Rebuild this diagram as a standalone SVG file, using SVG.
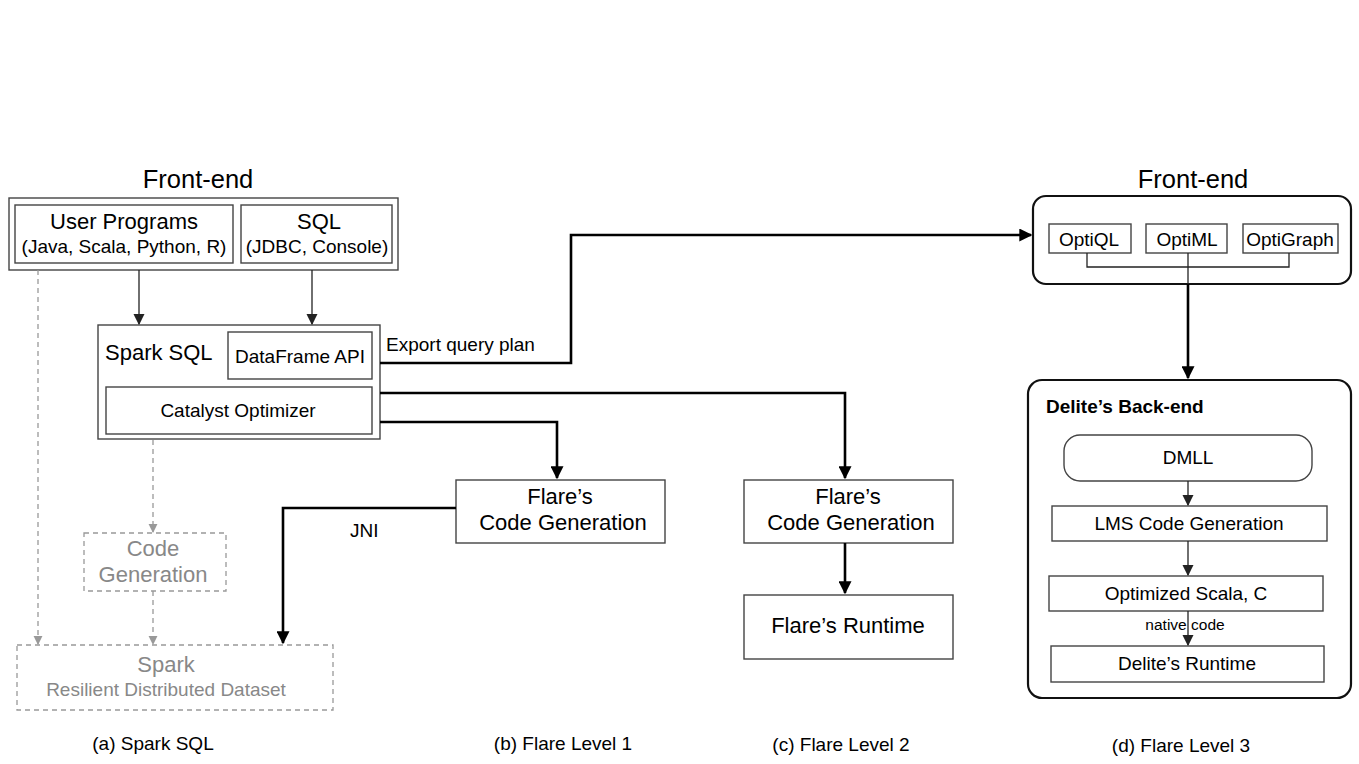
<svg xmlns="http://www.w3.org/2000/svg" width="1359" height="764" viewBox="0 0 1359 764">
<style>
text{font-family:"Liberation Sans",Arial,sans-serif;fill:#000}
.box{fill:#fff;stroke:#444;stroke-width:1.4}
.rbox{fill:#fff;stroke:#111;stroke-width:2.2}
.dbox{fill:none;stroke:#999;stroke-width:1.3;stroke-dasharray:5,4}
.thin{fill:none;stroke:#222;stroke-width:1.3}
.thick{fill:none;stroke:#000;stroke-width:2.6}
.dash{fill:none;stroke:#999;stroke-width:1.3;stroke-dasharray:5,4}
.t24{font-size:25.5px}
.t20{font-size:22px}
.t16{font-size:19px}
.t13{font-size:15.5px}
.c{text-anchor:middle}
.g{fill:#888}
</style>
<defs>
<marker id="aBig" viewBox="0 0 10 10" refX="9" refY="5" markerWidth="5" markerHeight="5" markerUnits="strokeWidth" orient="auto">
<path d="M0,0 L10,5 L0,10 z" fill="#000"/>
</marker>
<marker id="aSmall" viewBox="0 0 10 10" refX="9" refY="5" markerWidth="8.5" markerHeight="8.5" markerUnits="strokeWidth" orient="auto">
<path d="M0,0 L10,5 L0,10 z" fill="#222"/>
</marker>
<marker id="aGray" viewBox="0 0 10 10" refX="9" refY="5" markerWidth="7" markerHeight="7" markerUnits="strokeWidth" orient="auto">
<path d="M0,0 L10,5 L0,10 z" fill="#999"/>
</marker>
</defs>

<!-- Titles -->
<text class="t24 c" x="198" y="188">Front-end</text>
<text class="t24 c" x="1193" y="188">Front-end</text>

<!-- Spark SQL side -->
<g id="frontend-left">
<rect class="box" x="9" y="198" width="389" height="72"/>
</g>
<g id="user-programs">
<rect class="box" x="15" y="205" width="218" height="58"/>
<text class="t20 c" x="124" y="229">User Programs</text>
<text class="t16 c" x="124" y="253">(Java, Scala, Python, R)</text>
</g>
<g id="sql">
<rect class="box" x="241" y="205" width="151" height="58"/>
<text class="t20 c" x="319" y="229">SQL</text>
<text class="t16 c" x="317" y="253">(JDBC, Console)</text>
</g>
<g id="spark-sql">
<rect class="box" x="98" y="325" width="282" height="114"/>
<text class="t20" x="105" y="360">Spark SQL</text>
</g>
<g id="dataframe-api">
<rect class="box" x="228" y="332" width="144" height="47"/>
<text class="t16 c" x="300" y="363">DataFrame API</text>
</g>
<g id="catalyst">
<rect class="box" x="106" y="387" width="266" height="47"/>
<text class="t16 c" x="238" y="417">Catalyst Optimizer</text>
</g>
<g id="code-generation">
<rect class="dbox" x="84" y="533" width="142" height="58"/>
<text class="t20 c g" x="153" y="556">Code</text>
<text class="t20 c g" x="153" y="582">Generation</text>
</g>
<g id="spark-rdd">
<rect class="dbox" x="17" y="645" width="316" height="65"/>
<text class="t20 c g" x="166" y="672">Spark</text>
<text class="t16 c g" x="166" y="696">Resilient Distributed Dataset</text>
</g>

<!-- Flare levels -->
<g id="flare-codegen-1">
<rect class="box" x="456" y="480" width="209" height="63"/>
<text class="t20 c" x="560" y="504">Flare’s</text>
<text class="t20 c" x="563" y="530">Code Generation</text>
</g>
<g id="flare-codegen-2">
<rect class="box" x="744" y="480" width="209" height="63"/>
<text class="t20 c" x="848" y="504">Flare’s</text>
<text class="t20 c" x="851" y="530">Code Generation</text>
</g>
<g id="flare-runtime">
<rect class="box" x="744" y="595" width="209" height="64"/>
<text class="t20 c" x="848" y="633">Flare’s Runtime</text>
</g>

<!-- Delite side -->
<g id="frontend-right">
<rect class="rbox" x="1033" y="196" width="318" height="88" rx="13"/>
</g>
<g id="optiql">
<rect class="box" x="1049" y="224" width="82" height="29"/>
<text class="t16 c" x="1089" y="246">OptiQL</text>
</g>
<g id="optiml">
<rect class="box" x="1146" y="224" width="81" height="29"/>
<text class="t16 c" x="1187" y="246">OptiML</text>
</g>
<g id="optigraph">
<rect class="box" x="1243" y="224" width="95" height="29"/>
<text class="t16 c" x="1290" y="246">OptiGraph</text>
</g>
<g id="delite-backend">
<rect class="rbox" x="1028" y="380" width="323" height="318" rx="14"/>
<text class="t16" x="1046" y="413" font-weight="bold">Delite’s Back-end</text>
</g>
<g id="dmll">
<rect class="box" x="1064" y="435" width="248" height="46" rx="16"/>
<text class="t16 c" x="1188" y="464">DMLL</text>
</g>
<g id="lms">
<rect class="box" x="1052" y="506" width="275" height="35"/>
<text class="t16 c" x="1189" y="530">LMS Code Generation</text>
</g>
<g id="optimized">
<rect class="box" x="1049" y="576" width="274" height="35"/>
<text class="t16 c" x="1186" y="600">Optimized Scala, C</text>
</g>
<g id="delite-runtime">
<rect class="box" x="1051" y="646" width="273" height="36"/>
<text class="t16 c" x="1187" y="670">Delite’s Runtime</text>
</g>

<!-- Connectors -->
<g id="connectors">
<path class="thin" d="M139,270 V324" marker-end="url(#aSmall)"/>
<path class="thin" d="M312,270 V324" marker-end="url(#aSmall)"/>
<path class="dash" d="M153,440 V532" marker-end="url(#aGray)"/>
<path class="dash" d="M153,591 V644" marker-end="url(#aGray)"/>
<path class="dash" d="M38,270 V644" marker-end="url(#aGray)"/>
<path class="thick" d="M380,363 H571 V235 H1031" marker-end="url(#aBig)"/>
<path class="thick" d="M380,393 H845 V478" marker-end="url(#aBig)"/>
<path class="thick" d="M380,422 H557 V478" marker-end="url(#aBig)"/>
<path class="thick" d="M456,508 H283 V643" marker-end="url(#aBig)"/>
<path class="thick" d="M845,543 V593" marker-end="url(#aBig)"/>
<path class="thin" d="M1087,253 V267 H1289 V253"/>
<path class="thin" d="M1188,253 V284"/>
<path class="thick" d="M1188,284 V378" marker-end="url(#aBig)"/>
<path class="thin" d="M1188,481 V505" marker-end="url(#aSmall)"/>
<path class="thin" d="M1188,541 V575" marker-end="url(#aSmall)"/>
<path class="thin" d="M1188,611 V645" marker-end="url(#aSmall)"/>
</g>

<!-- Labels -->
<text class="t16" x="386" y="351">Export query plan</text>
<text class="t16" x="350" y="537">JNI</text>
<text class="t13 c" x="1185" y="630">native code</text>

<!-- Captions -->
<text class="t16 c" x="153" y="750">(a) Spark SQL</text>
<text class="t16 c" x="563" y="750">(b) Flare Level 1</text>
<text class="t16 c" x="841" y="751">(c) Flare Level 2</text>
<text class="t16 c" x="1181" y="752">(d) Flare Level 3</text>
</svg>
